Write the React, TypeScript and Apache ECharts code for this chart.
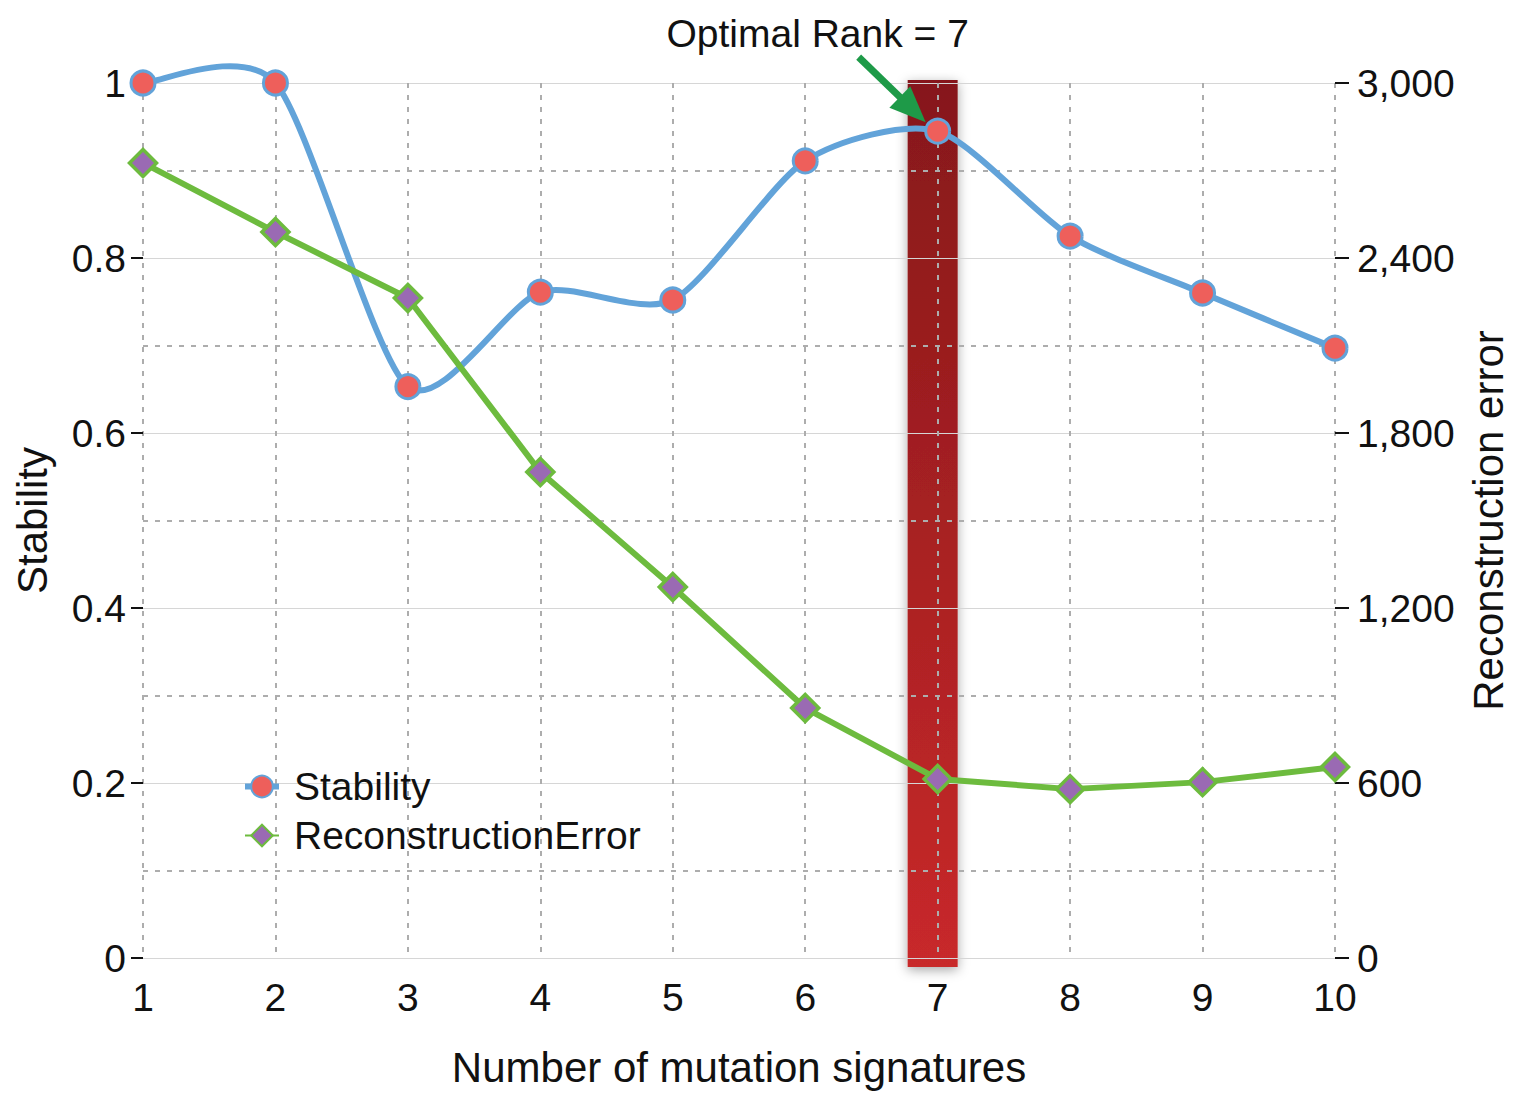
import React, { useEffect, useRef } from "react";
import * as echarts from "echarts";

const ranks = [1, 2, 3, 4, 5, 6, 7, 8, 9, 10];
const stability = [1.0, 1.0, 0.653, 0.761, 0.752, 0.911, 0.945, 0.825, 0.76, 0.697];
const reconstructionError = [2726, 2489, 2263, 1666, 1272, 857, 614, 579, 603, 655];
const optimalRank = 7;
const annotationText = "Optimal Rank = 7";

const FONT = "'Liberation Sans', Arial, Helvetica, sans-serif";
const BLUE = "#62a3d9";
const RED = "#ee5f5b";
const GREEN = "#6dbb3e";
const PURPLE = "#9a6ab3";
const ARROW = "#1e9a48";
const TENSION = 0.125;

export default function App() {
  const ref = useRef<HTMLDivElement>(null);
  useEffect(() => {
    document.body.style.margin = "0";
    const chart = echarts.init(ref.current!, null, { renderer: "svg" });
    const option: any = {
      animation: false,
      backgroundColor: "#fff",
      textStyle: { fontFamily: FONT },
      grid: { left: 143, right: 179, top: 83, bottom: 135, outerBoundsMode: "none", containLabel: false },
      legend: {
        left: 237,
        top: 762,
        orient: "vertical",
        itemGap: 10,
        itemWidth: 34,
        itemHeight: 27,
        textStyle: { fontSize: 39, color: "#111", fontFamily: FONT, padding: [0, 0, 0, 10] },
        data: [
          { name: "Stability", lineStyle: { color: BLUE, width: 6, opacity: 1 } },
          { name: "ReconstructionError" },
        ],
      },
      xAxis: {
        type: "value",
        min: 1,
        max: 10,
        interval: 1,
        name: "Number of mutation signatures",
        nameLocation: "middle",
        nameGap: 88,
        nameTextStyle: { fontSize: 42, color: "#111", fontFamily: FONT },
        axisLine: { show: false },
        axisTick: { show: false },
        axisLabel: { fontSize: 39, color: "#111", margin: 20, fontFamily: FONT },
        splitLine: {
          show: true,
          lineStyle: { color: "#adadad", width: 2, type: [5, 7] },
        },
      },
      yAxis: [
        {
          type: "value",
          min: 0,
          max: 1,
          interval: 0.2,
          name: "Stability",
          nameLocation: "middle",
          nameGap: 90,
          nameRotate: 90,
          nameTextStyle: { fontSize: 42, color: "#111", fontFamily: FONT },
          axisLine: { show: false },
          axisTick: { show: true, length: 12, lineStyle: { color: "#111", width: 2 } },
          axisLabel: { fontSize: 39, color: "#111", margin: 17, fontFamily: FONT },
          splitLine: { show: true, lineStyle: { color: "#d6d6d6", width: 1 } },
          minorTick: { show: false, splitNumber: 2 },
          minorSplitLine: {
            show: true,
            lineStyle: { color: "#adadad", width: 2, type: [5, 7] },
          },
        },
        {
          type: "value",
          min: 0,
          max: 3000,
          interval: 600,
          name: "Reconstruction error",
          nameLocation: "middle",
          nameGap: 132,
          nameRotate: 90,
          nameTextStyle: { fontSize: 42, color: "#111", fontFamily: FONT },
          position: "right",
          axisLine: { show: false },
          axisTick: { show: true, length: 14, lineStyle: { color: "#111", width: 2 } },
          axisLabel: {
            fontSize: 39,
            color: "#111",
            margin: 22,
            fontFamily: FONT,
            formatter: (v: number) => v.toLocaleString("en-US"),
          },
          splitLine: { show: false },
        },
      ],
      series: [
        {
          type: "custom",
          name: "optimal",
          z: -1,
          silent: true,
          xAxisIndex: 0,
          yAxisIndex: 0,
          data: [[optimalRank, 1]],
          renderItem: (params: any, api: any) => {
            const top = api.coord([api.value(0), api.value(1)]);
            const bottom = api.coord([api.value(0), 0]);
            return {
              type: "rect",
              shape: { x: top[0] - 30, y: top[1] - 3, width: 50, height: bottom[1] - top[1] + 12 },
              style: {
                fill: new echarts.graphic.LinearGradient(0, 0, 0, 1, [
                  { offset: 0, color: "#86181a" },
                  { offset: 1, color: "#c8292a" },
                ]),
                shadowBlur: 12,
                shadowColor: "rgba(0,0,0,0.35)",
                shadowOffsetY: 3,
              },
            };
          },
        },
        {
          type: "custom",
          name: "StabilityCurve",
          z: 3,
          silent: true,
          xAxisIndex: 0,
          yAxisIndex: 0,
          data: ranks.slice(0, -1).map((r, i) => [r, stability[i]]),
          renderItem: (params: any, api: any) => {
            const i = params.dataIndex;
            const n = ranks.length;
            const pt = (k: number) => api.coord([ranks[k], stability[k]]);
            const p0 = pt(Math.max(0, i - 1));
            const p1 = pt(i);
            const p2 = pt(i + 1);
            const p3 = pt(Math.min(n - 1, i + 2));
            return {
              type: "bezierCurve",
              shape: {
                x1: p1[0],
                y1: p1[1],
                x2: p2[0],
                y2: p2[1],
                cpx1: p1[0] + (p2[0] - p0[0]) * TENSION,
                cpy1: p1[1] + (p2[1] - p0[1]) * TENSION,
                cpx2: p2[0] - (p3[0] - p1[0]) * TENSION,
                cpy2: p2[1] - (p3[1] - p1[1]) * TENSION,
              },
              style: { stroke: BLUE, lineWidth: 6, fill: null, lineCap: "round" },
            };
          },
        },
        {
          name: "Stability",
          type: "line",
          yAxisIndex: 0,
          data: ranks.map((r, i) => [r, stability[i]]),
          symbol: "circle",
          symbolSize: 24,
          lineStyle: { color: BLUE, width: 0 },
          itemStyle: { color: RED, borderColor: BLUE, borderWidth: 3 },
          z: 5,
        },
        {
          name: "ReconstructionError",
          type: "line",
          yAxisIndex: 1,
          data: ranks.map((r, i) => [r, reconstructionError[i]]),
          symbol: "diamond",
          symbolSize: 27,
          lineStyle: { color: GREEN, width: 6 },
          itemStyle: { color: PURPLE, borderColor: GREEN, borderWidth: 3.5 },
          z: 4,
        },
      ],
    };
    chart.setOption(option);

    const p = chart.convertToPixel({ xAxisIndex: 0, yAxisIndex: 0 }, [
      optimalRank,
      stability[ranks.indexOf(optimalRank)],
    ]) as number[];
    const tip = [p[0] - 12, p[1] - 9];
    const start = [tip[0] - 67, tip[1] - 65];
    const dx = tip[0] - start[0];
    const dy = tip[1] - start[1];
    const len = Math.sqrt(dx * dx + dy * dy);
    const ux = dx / len;
    const uy = dy / len;
    const headLen = 36;
    const headW = 15;
    const base = [tip[0] - ux * headLen, tip[1] - uy * headLen];
    chart.setOption({
      graphic: [
        {
          type: "line",
          shape: { x1: start[0], y1: start[1], x2: base[0] + ux * 4, y2: base[1] + uy * 4 },
          style: { stroke: ARROW, lineWidth: 7 },
          z: 100,
        },
        {
          type: "polygon",
          shape: {
            points: [
              tip,
              [base[0] - uy * headW, base[1] + ux * headW],
              [base[0] + uy * headW, base[1] - ux * headW],
            ],
          },
          style: { fill: ARROW },
          z: 100,
        },
        {
          type: "text",
          x: p[0] - 120,
          y: 33,
          style: {
            text: annotationText,
            fontSize: 39,
            fontFamily: FONT,
            fill: "#111",
            align: "center",
            verticalAlign: "middle",
          },
          z: 100,
        },
      ],
    });
    return () => chart.dispose();
  }, []);
  return <div ref={ref} style={{ width: 1514, height: 1093 }} />;
}
